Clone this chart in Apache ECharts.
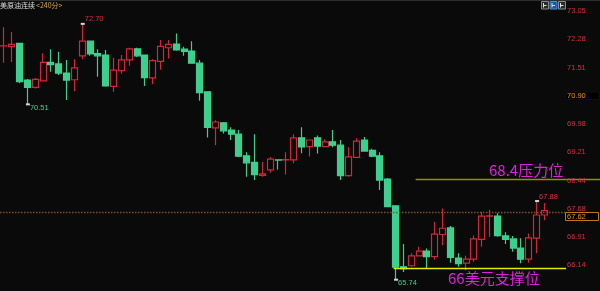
<!DOCTYPE html>
<html>
<head>
<meta charset="utf-8">
<script src="https://cdn.jsdelivr.net/npm/echarts@6/dist/echarts.min.js"></script>
<style>
html,body{margin:0;padding:0;background:#0a0a0a;}
#c{width:600px;height:291px;}
</style>
</head>
<body>
<div id="c"></div>
<script>
// ---- Data (240-minute K-lines) ----
const opens  = [72.10,72.08,72.17,71.17,70.97,71.15,71.65,71.61,71.36,71.18,71.83,72.23,71.89,71.85,71.00,71.43,71.72,72.02,71.85,71.23,71.68,72.05,72.15,72.01,71.96,71.63,70.85,69.87,70.01,69.81,69.70,69.11,68.93,68.58,68.73,69.00,69.00,69.00,69.60,69.36,69.60,69.36,69.49,69.40,68.57,69.07,69.54,69.26,69.11,68.48,67.75,66.09,66.12,66.39,66.52,66.37,66.97,67.15,66.33,66.19,66.30,66.84,67.47,67.47,66.93,66.85,66.60,66.30,66.87,67.50];
const closes = [72.105,72.14,71.13,70.97,71.19,71.65,71.59,71.36,71.17,71.50,72.23,71.88,71.83,71.01,71.44,71.72,72.02,71.83,71.24,71.70,72.09,72.14,71.99,71.95,71.63,70.83,69.88,70.03,69.79,69.70,69.10,68.92,68.60,68.62,69.02,68.995,69.005,69.60,69.35,69.54,69.37,69.49,69.40,68.57,69.08,69.51,69.24,69.10,68.45,67.73,66.08,66.04,66.39,66.52,66.37,66.98,67.14,66.35,66.18,66.30,66.85,67.47,67.475,66.94,66.84,66.60,66.30,66.88,67.50,67.62];
const lows   = [71.64,71.66,71.09,70.51,70.94,71.14,71.40,71.31,70.63,70.87,71.74,71.83,71.26,70.99,70.85,71.34,71.56,71.80,71.01,71.06,71.45,71.76,71.97,71.83,71.62,70.61,69.61,69.40,69.72,69.54,69.07,68.54,68.45,68.54,68.65,68.74,68.60,68.91,69.18,69.09,69.17,69.34,69.34,68.45,68.54,69.06,69.24,69.07,68.18,67.72,65.74,65.95,66.09,66.37,66.03,66.28,66.68,66.20,66.09,66.00,66.23,66.64,66.91,66.91,66.71,66.50,66.19,66.20,66.46,67.36];
const highs  = [72.61,72.48,72.18,71.20,71.23,71.90,72.01,71.94,71.72,71.74,72.70,72.25,72.01,71.99,71.78,71.85,72.05,72.05,71.86,71.74,72.26,72.26,72.44,72.08,72.23,71.72,70.87,70.08,70.03,69.89,69.81,69.21,69.70,68.94,69.08,69.00,69.21,69.70,69.89,69.55,69.66,69.56,69.81,69.54,69.34,69.59,69.62,69.30,69.21,68.51,67.75,66.71,66.46,66.64,66.59,67.32,67.68,67.20,66.46,66.39,66.94,67.59,67.64,67.55,67.03,66.93,66.87,67.00,67.88,67.83];

// right-axis tick labels (value position, shown text)
const tickValues = [73.05, 72.28, 71.51, 70.745, 69.98, 69.21, 68.44, 67.675, 66.91, 66.14];
const tickTexts  = ['73.05','72.28','71.51','70.90','69.98','69.21','68.44','67.68','66.91','66.14'];
const highlightTick = '70.90';

const lastPrice = 67.62;
const pressureLevel = 68.47;   const pressureText = '68.4压力位';
const supportLevel  = 66.05;   const supportText  = '66美元支撑位';
// extreme markers: [candle index, value, text, side]
const extremes = [[10, 72.70, '72.70', 'high'], [3, 70.51, '70.51', 'low'], [50, 65.74, '65.74', 'low'], [68, 67.88, '67.88', 'high']];
const titleMain = '美原油连续';
const titlePeriod = '<240分>';

// ---- build ----
const slots = opens.length + 2;
const categories = Array.from({length: slots}, (_, i) => String(i + 1));
const kdata = opens.map((o, i) => [o, closes[i], lows[i], highs[i]]);

const RED = '#d0283a', GREEN = '#3dcf8e', BG = '#0a0a0a';
const chart = echarts.init(document.getElementById('c'), null, {renderer: 'canvas'});
chart.setOption({
  backgroundColor: BG,
  animation: false,
  grid: {left: 0, top: 0, width: 564, height: 291},
  xAxis: {type: 'category', data: categories, boundaryGap: true, show: false},
  yAxis: {type: 'value', min: 65.433, max: 73.349, show: false, splitLine: {show: false}},
  series: [{
    type: 'candlestick',
    data: kdata,
    barWidth: 6.6,
    barMaxWidth: 8,
    itemStyle: {color: BG, color0: GREEN, borderColor: RED, borderColor0: GREEN, borderWidth: 1.2}
  }]
});

function P(i, v) { return chart.convertToPixel({gridIndex: 0}, [i, v]); }
function Y(v) { return P(0, v)[1]; }
function txt(text, x, y, fill, font, align, vAlign) {
  return {type: 'text', z: 50, style: {text: text, x: x, y: y, fill: fill, font: font,
    textAlign: align || 'left', align: align || 'left',
    textVerticalAlign: vAlign || 'middle', verticalAlign: vAlign || 'middle'}};
}
const g = [];
const axisFont = '7.5px "Liberation Sans", Arial, sans-serif';
// top border
g.push({type: 'line', z: 40, shape: {x1: 0, y1: 0.5, x2: 600, y2: 0.5}, style: {stroke: '#2e2e2e', lineWidth: 1}});
// title
g.push(txt(titleMain, 0, 5.5, '#dadada', '7px "Noto Sans CJK SC", sans-serif'));
g.push(txt(titlePeriod, 36, 5.5, '#d4a452', '7px "Noto Sans CJK SC", sans-serif'));
// top-right buttons
[[541, '#2a2a2a', '#8a8a8a'], [549.5, '#155a9a', '#4a90d8'], [558, '#2a2a2a', '#8a8a8a']].forEach(function (b) {
  g.push({type: 'rect', z: 40, shape: {x: b[0] + 0.5, y: 1.5, width: 7, height: 7.5}, style: {fill: b[1], stroke: b[2], lineWidth: 1}});
  g.push({type: 'line', z: 41, shape: {x1: b[0] + 2.5, y1: 3, x2: b[0] + 2.5, y2: 7.5}, style: {stroke: '#e0e0e0', lineWidth: 1}});
  g.push({type: 'line', z: 41, shape: {x1: b[0] + 2.5, y1: 5.5, x2: b[0] + 5.5, y2: 5.5}, style: {stroke: '#e0e0e0', lineWidth: 1}});
});
// axis labels
tickValues.forEach(function (v, k) {
  const y = Y(v);
  if (tickTexts[k] === highlightTick) {
    g.push({type: 'rect', z: 45, shape: {x: 565.5, y: y - 3.8, width: 33.5, height: 7.6}, style: {fill: '#000000', stroke: '#111111', lineWidth: 1}});
    g.push(txt(tickTexts[k], 567, y, '#e8961c', axisFont));
  } else {
    g.push(txt(tickTexts[k], 567, y, '#d23040', axisFont));
  }
});
// last price dotted line + box
const yl = Math.round(Y(lastPrice)) + 1.5;
g.push({type: 'line', z: 30, shape: {x1: 0, y1: yl, x2: 565, y2: yl}, style: {stroke: '#7b5230', lineWidth: 1.5, lineDash: [1.5, 1.5]}});
g.push({type: 'rect', z: 45, shape: {x: 565.5, y: yl, width: 33, height: 8}, style: {fill: '#000000', stroke: '#c07818', lineWidth: 1}});
g.push(txt(lastPrice.toFixed(2), 567, yl + 4.2, '#e8961c', axisFont));
// pressure line
const xp = P(53, pressureLevel);
const yp = Math.round(xp[1]) + 0.5;
g.push({type: 'line', z: 30, shape: {x1: xp[0] - 3.5, y1: yp, x2: 600, y2: yp}, style: {stroke: '#8f8f0c', lineWidth: 1.5}});
g.push(txt(pressureText, 489, yp - 9, '#dd22dd', '15px "Noto Sans CJK SC", sans-serif'));
// support line
const xs = P(50, supportLevel);
const ys = Math.round(xs[1]) + 0.5;
g.push({type: 'line', z: 30, shape: {x1: xs[0] - 2, y1: ys, x2: 566, y2: ys}, style: {stroke: '#e8e800', lineWidth: 1.5}});
g.push(txt(supportText, 448, ys + 10, '#dd22dd', '15px "Noto Sans CJK SC", sans-serif'));
// extreme markers
extremes.forEach(function (e) {
  const p = P(e[0], e[1]);
  const up = e[3] === 'high';
  g.push({type: 'rect', z: 42, shape: {x: p[0] - 1.5, y: p[1] - 1, width: 4, height: 2}, style: {fill: '#d8d8d8'}});
  g.push(txt(e[2], p[0] + 2.5, p[1] + (up ? -4.5 : 3.5), up ? '#e03040' : GREEN, axisFont));
});
chart.setOption({graphic: {elements: g}});
</script>
</body>
</html>
